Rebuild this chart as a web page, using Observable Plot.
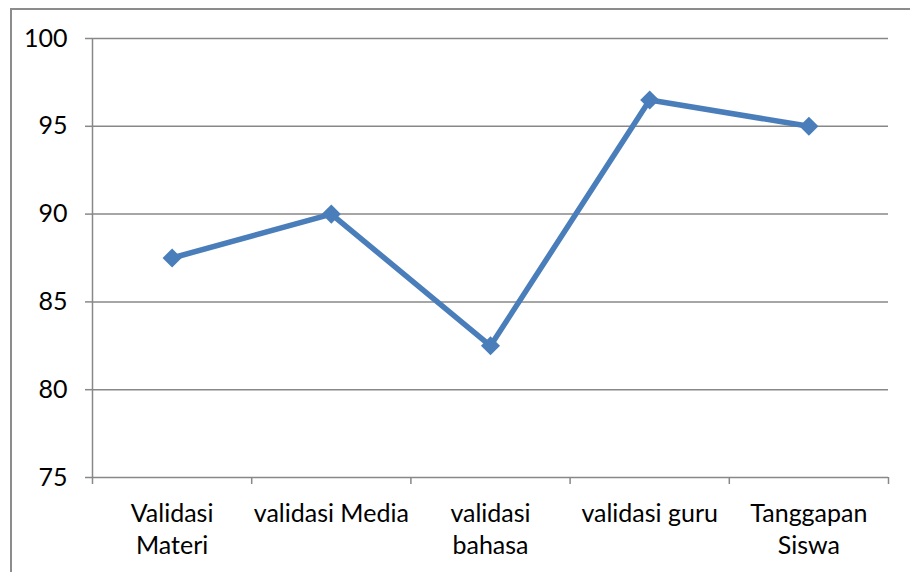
<!DOCTYPE html>
<html>
<head>
<meta charset="utf-8">
<script src="https://cdn.jsdelivr.net/npm/d3@7"></script>
<script src="https://cdn.jsdelivr.net/npm/@observablehq/plot@0.6"></script>
<style>
  html, body { margin: 0; padding: 0; background: #fff; overflow: hidden; }
  #wrap { position: relative; width: 910px; height: 572px; }
  #border { position: absolute; left: 10px; top: 8px; width: 920px; height: 600px; border: 2px solid #8c8c8c; box-sizing: border-box; }
  #chart { position: absolute; left: 0; top: 0; }
</style>
</head>
<body>
<div id="wrap"><div id="border"></div><div id="chart"></div></div>
<script>
const categories = ["Validasi\nMateri", "validasi Media", "validasi\nbahasa", "validasi guru", "Tanggapan\nSiswa"];
const values = [87.5, 90, 82.5, 96.5, 95];
const yTicks = [75, 80, 85, 90, 95, 100];

const data = categories.map((c, i) => ({i, label: c, value: values[i]}));
const boundaries = d3.range(categories.length + 1).map(k => k - 0.5);

const font = "Lato, 'Open Sans', sans-serif";
const gray = "#888888";
const fs = 25;

const chart = Plot.plot({
  width: 910,
  height: 572,
  marginLeft: 92,
  marginRight: 22,
  marginTop: 38,
  marginBottom: 95,
  style: {fontFamily: font, fontSize: fs + "px", color: "#000", background: "transparent"},
  x: {type: "linear", domain: [-0.5, categories.length - 0.5], axis: null},
  y: {domain: [75, 100], axis: null},
  marks: [
    Plot.ruleY(yTicks, {y: d => d, stroke: gray, strokeWidth: 1.5}),
    Plot.ruleX([-0.5], {x: d => d, y1: 75, y2: 100, stroke: gray, strokeWidth: 1.5}),
    Plot.axisY(yTicks, {tickSize: 7, tickPadding: 18, stroke: gray, strokeWidth: 1.5, fontSize: fs, fill: "#000", label: null}),
    Plot.axisX(boundaries, {tickSize: 7, tickFormat: () => "", stroke: gray, strokeWidth: 1.5, label: null}),
    Plot.text(data, {x: "i", y: 75, text: "label", lineAnchor: "top", dy: 22, fontSize: fs, lineHeight: 1.28, fill: "#000"}),
    Plot.line(data, {x: "i", y: "value", stroke: "#4a7ebb", strokeWidth: 5.5, strokeLinejoin: "round"}),
    Plot.dot(data, {x: "i", y: "value", symbol: "diamond2", r: 8.6, fill: "#4a7ebb", stroke: "none"})
  ]
});
document.getElementById("chart").appendChild(chart);
</script>
</body>
</html>
